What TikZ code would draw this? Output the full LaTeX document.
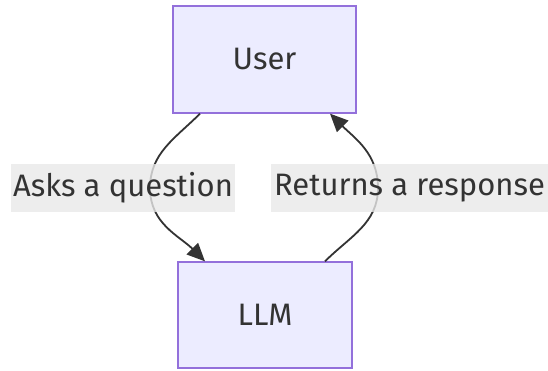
\documentclass[tikz,border=0pt]{standalone}
\usepackage{fontspec}
\setmainfont{Fira Sans}
\usetikzlibrary{arrows.meta}
\definecolor{boxfill}{HTML}{ECECFF}
\definecolor{boxline}{HTML}{9370DB}
\definecolor{ink}{HTML}{333333}
\definecolor{lblbg}{HTML}{E8E8E8}
\tikzset{
  box/.style={draw=boxline, line width=1.3pt, fill=boxfill, text=ink, inner sep=0pt, font=\fontsize{31}{36}\selectfont},
  lbl/.style={fill=lblbg, fill opacity=0.8, text opacity=1, text=ink, inner xsep=2pt, inner ysep=0pt, minimum height=48pt, font=\fontsize{31}{36}\selectfont},
  edge/.style={draw=ink, line width=1.8pt, -{Triangle[length=18pt,width=16pt]}}
}
\begin{document}
\begin{tikzpicture}[x=1pt,y=-1pt]
\useasboundingbox (0,0) rectangle (548,371);
\node[box, minimum width=183pt, minimum height=107pt] (user) at (264.5,59.5) {User};
\node[box, minimum width=174pt, minimum height=106pt] (llm) at (265,315) {LLM};
\coordinate (lq) at (150,188);
\coordinate (rq) at (378,188);
\draw[edge] ([xshift=-64.5pt]user.south) to[out=225,in=90] (lq) to[out=270,in=135] ([xshift=-60pt]llm.north);
\draw[edge] ([xshift=60pt]llm.north) to[out=45,in=270] (rq) to[out=90,in=-45] ([xshift=65.5pt]user.south);
\node[lbl, minimum width=222pt] (la) at (123,188) {Asks a question};
\node[lbl, minimum width=277pt] (lr) at (409.5,188) {Returns a response};
\end{tikzpicture}
\end{document}
